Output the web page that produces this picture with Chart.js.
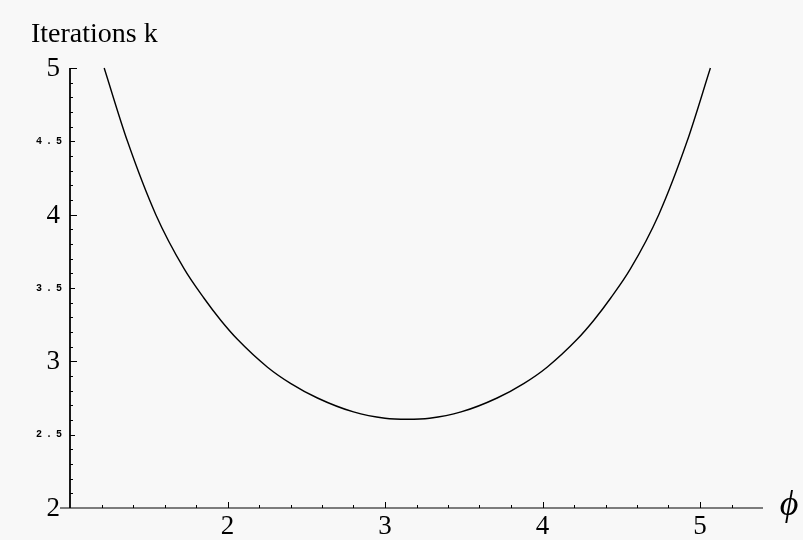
<!DOCTYPE html>
<html>
<head>
<meta charset="utf-8">
<script src="https://cdn.jsdelivr.net/npm/chart.js@4"></script>
<style>
    html, body { margin: 0; padding: 0; background: #f8f8f8; }
    canvas { display: block; }
</style>
</head>
<body>
<canvas id="iterChart" width="803" height="540"></canvas>
<script>
// iterations k as a function of phi
const phiValues = [1.217, 1.365, 1.545, 1.725, 1.851, 1.957, 2.063, 2.254, 2.40, 2.571, 2.80, 3.00, 3.142,
                   3.283, 3.483, 3.712, 3.883, 4.029, 4.220, 4.326, 4.432, 4.558, 4.738, 4.918, 5.066];
const kValues   = [5.0, 4.5, 4.0, 3.63, 3.43, 3.28, 3.15, 2.96, 2.85, 2.75, 2.655, 2.612, 2.605,
                   2.612, 2.655, 2.75, 2.85, 2.96, 3.15, 3.28, 3.43, 3.63, 4.0, 4.5, 5.0];

const xTickLabels = [2, 3, 4, 5];
const yBigLabels = [2, 3, 4, 5];
const ySmallLabels = [2.5, 3.5, 4.5];

const X_MIN = 1.0, X_MAX = 5.4;
const Y_MIN = 2, Y_MAX = 5;

// Mathematica-style axes: ticks point inward, axis lines meet at (X_MIN, Y_MIN)
const axesPlugin = {
    id: 'axes',
    afterDatasetsDraw(chart) {
        const ctx = chart.ctx;
        const xs = chart.scales.x;
        const ys = chart.scales.y;
        const x0 = xs.getPixelForValue(X_MIN);
        const y0 = ys.getPixelForValue(Y_MIN);

        ctx.save();
        ctx.strokeStyle = '#000';
        ctx.fillStyle = '#000';

        // axis lines
        ctx.lineWidth = 1.2;
        ctx.beginPath();
        ctx.moveTo(x0 - 10, y0);
        ctx.lineTo(xs.getPixelForValue(X_MAX), y0);
        ctx.stroke();
        ctx.lineWidth = 1.8;
        ctx.beginPath();
        ctx.moveTo(x0, y0);
        ctx.lineTo(x0, ys.getPixelForValue(Y_MAX));
        ctx.stroke();

        // x ticks every 0.2, longer on integers
        ctx.lineWidth = 1;
        ctx.beginPath();
        for (let i = 6; i <= 26; i++) {
            const v = i / 5;
            const px = Math.round(xs.getPixelForValue(v)) + 0.5;
            const len = (i % 5 === 0) ? 6 : 3;
            ctx.moveTo(px, y0);
            ctx.lineTo(px, y0 - len);
        }
        // y ticks every 0.1, longer on halves
        for (let i = 21; i <= 50; i++) {
            const v = i / 10;
            const py = Math.round(ys.getPixelForValue(v)) + 0.5;
            const len = (i % 10 === 0) ? 7 : (i % 5 === 0 ? 5 : 3);
            ctx.moveTo(x0, py);
            ctx.lineTo(x0 + len, py);
        }
        ctx.stroke();

        // tick labels
        ctx.font = '27px "Liberation Serif", "DejaVu Serif", serif';
        ctx.textAlign = 'center';
        ctx.textBaseline = 'middle';
        xTickLabels.forEach(v => {
            ctx.fillText(String(v), xs.getPixelForValue(v), y0 + 19);
        });
        ctx.textAlign = 'right';
        yBigLabels.forEach(v => {
            ctx.fillText(String(v), x0 - 10, ys.getPixelForValue(v) + 1);
        });
        ctx.font = 'bold 10px "Liberation Mono", "DejaVu Sans Mono", monospace';
        ctx.letterSpacing = '4px';
        ySmallLabels.forEach(v => {
            ctx.fillText(v.toFixed(1), x0 - 4, ys.getPixelForValue(v));
        });
        ctx.letterSpacing = '0px';

        // axis titles
        ctx.textAlign = 'left';
        ctx.textBaseline = 'alphabetic';
        ctx.font = '28px "Liberation Serif", "DejaVu Serif", serif';
        ctx.fillText('Iterations k', 31, 42);
        ctx.font = 'italic 36px "Liberation Serif", "DejaVu Serif", serif';
        ctx.textAlign = 'center';
        ctx.textBaseline = 'middle';
        ctx.fillText('\u03d5', 789, y0 - 2);

        ctx.restore();
    }
};

const points = phiValues.map((x, i) => ({ x: x, y: kValues[i] }));

new Chart(document.getElementById('iterChart'), {
    type: 'scatter',
    data: {
        datasets: [{
            data: points,
            showLine: true,
            borderColor: '#000',
            borderWidth: 1.4,
            pointRadius: 0,
            cubicInterpolationMode: 'monotone',
            fill: false
        }]
    },
    options: {
        responsive: false,
        animation: false,
        clip: false,
        layout: { padding: { left: 70, right: 40, top: 68, bottom: 32 } },
        scales: {
            x: { type: 'linear', min: X_MIN, max: X_MAX, display: false },
            y: { type: 'linear', min: Y_MIN, max: Y_MAX, display: false }
        },
        plugins: {
            legend: { display: false },
            tooltip: { enabled: false }
        }
    },
    plugins: [axesPlugin]
});
</script>
</body>
</html>
